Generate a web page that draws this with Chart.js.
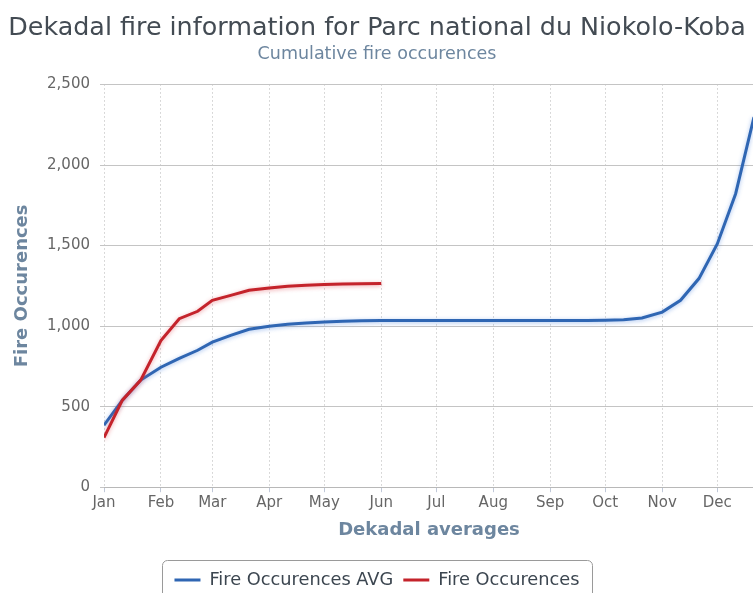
<!DOCTYPE html>
<html>
<head>
<meta charset="utf-8">
<title>Dekadal fire information for Parc national du Niokolo-Koba</title>
<script src="https://cdn.jsdelivr.net/npm/chart.js@4.4.1/dist/chart.umd.min.js"></script>
<style>
    html, body { margin: 0; padding: 0; background: #ffffff; overflow: hidden; }
    #wrap { position: relative; width: 758px; height: 610px; }
</style>
</head>
<body>
<div id="wrap"><canvas id="fireChart"></canvas></div>
<script>
// Month labels and the day of year where each month starts
const monthLabels = ['Jan', 'Feb', 'Mar', 'Apr', 'May', 'Jun', 'Jul', 'Aug', 'Sep', 'Oct', 'Nov', 'Dec'];
const monthStartDays = [0, 31, 59, 90, 120, 151, 181, 212, 243, 273, 304, 334];

// Dekads (1st, 11th, 21st of each month) as day of year
const dekadDays = [
    0, 10, 20, 31, 41, 51, 59, 69, 79, 90, 100, 110,
    120, 130, 140, 151, 161, 171, 181, 191, 201, 212, 222, 232,
    243, 253, 263, 273, 283, 293, 304, 314, 324, 334, 344, 354
];

// Cumulative fire occurences, average over the years
const fireAvg = [
    385, 540, 665, 745, 800, 850, 900, 943, 980, 999, 1011, 1019,
    1026, 1030, 1033, 1035, 1035, 1035, 1035, 1035, 1035, 1035, 1035, 1035,
    1035, 1035, 1035, 1037, 1040, 1050, 1087, 1160, 1295, 1510, 1822, 2297
];

// Cumulative fire occurences, current season (up to Jun 1)
const fireCurrent = [
    308, 540, 665, 910, 1046, 1092, 1160, 1191, 1222, 1237, 1247, 1253,
    1259, 1261, 1263, 1264
];

const yTicks = [0, 500, 1000, 1500, 2000, 2500];

function toPoints(values) {
    return values.map(function (v, i) { return { x: dekadDays[i], y: v }; });
}

Chart.defaults.font.family = "'DejaVu Sans', Verdana, sans-serif";

// Soft glow under the lines
const lineGlow = {
    id: 'lineGlow',
    beforeDatasetDraw: function (chart, args) {
        const ds = chart.data.datasets[args.index];
        chart.ctx.save();
        chart.ctx.shadowColor = ds.glowColor;
        chart.ctx.shadowBlur = 4;
        chart.ctx.shadowOffsetX = 0;
        chart.ctx.shadowOffsetY = 1;
    },
    afterDatasetDraw: function (chart) {
        chart.ctx.restore();
    }
};

// Rounded frame around the legend items
const legendFrame = {
    id: 'legendFrame',
    afterDraw: function (chart) {
        const legend = chart.legend;
        if (!legend || !legend.legendHitBoxes.length) return;
        const boxes = legend.legendHitBoxes;
        const left = Math.min.apply(null, boxes.map(b => b.left)) - 12;
        const right = Math.max.apply(null, boxes.map(b => b.left + b.width)) + 13;
        const top = legend.top - 1.5;
        const bottom = legend.bottom + 4;
        const ctx = chart.ctx;
        ctx.save();
        ctx.strokeStyle = '#9a9a9a';
        ctx.lineWidth = 1;
        ctx.beginPath();
        ctx.roundRect(Math.round(left) + 0.5, Math.round(top) + 0.5, Math.round(right - left), Math.round(bottom - top), 5);
        ctx.stroke();
        ctx.restore();
    }
};

const ctx = document.getElementById('fireChart').getContext('2d');
const fireChart = new Chart(ctx, {
    type: 'line',
    data: {
        datasets: [
            {
                label: 'Fire Occurences AVG',
                data: toPoints(fireAvg),
                borderColor: '#2f66b3',
                backgroundColor: '#2f66b3',
                glowColor: 'rgba(60, 120, 220, 0.45)',
                borderWidth: 3,
                pointRadius: 0,
                tension: 0,
                order: 1
            },
            {
                label: 'Fire Occurences',
                data: toPoints(fireCurrent),
                borderColor: '#c4232b',
                backgroundColor: '#c4232b',
                glowColor: 'rgba(220, 60, 70, 0.45)',
                borderWidth: 3,
                pointRadius: 0,
                tension: 0,
                order: 0
            }
        ]
    },
    options: {
        responsive: true,
        maintainAspectRatio: false,
        animation: false,
        layout: {
            padding: { left: 0, right: 4, top: 0, bottom: 11 }
        },
        scales: {
            x: {
                type: 'linear',
                min: 0,
                max: 354,
                afterBuildTicks: function (scale) {
                    scale.ticks = monthStartDays.map(v => ({ value: v }));
                },
                afterFit: function (scale) {
                    scale.height = 74;
                },
                ticks: {
                    autoSkip: false,
                    maxRotation: 0,
                    minRotation: 0,
                    padding: 2,
                    color: '#666666',
                    font: { size: 15 },
                    callback: function (value) {
                        return monthLabels[monthStartDays.indexOf(value)];
                    }
                },
                grid: {
                    color: '#b4b4b4',
                    tickColor: '#c0c8d8',
                    tickLength: 5,
                    tickBorderDash: []
                },
                border: {
                    display: true,
                    color: '#b8b8b8',
                    width: 1,
                    dash: [1, 3]
                },
                title: {
                    display: true,
                    text: 'Dekadal averages',
                    color: '#6D869F',
                    font: { size: 18, weight: 'bold' },
                    padding: { top: 0, bottom: 20 }
                }
            },
            y: {
                min: 0,
                max: 2500,
                afterBuildTicks: function (scale) {
                    scale.ticks = yTicks.map(v => ({ value: v }));
                },
                afterFit: function (scale) {
                    scale.width = 104;
                },
                ticks: {
                    padding: 10,
                    color: '#666666',
                    font: { size: 15 },
                    callback: function (value) {
                        return value.toLocaleString('en-US');
                    }
                },
                grid: {
                    color: '#c4c4c4',
                    tickLength: 4
                },
                border: {
                    display: false
                },
                title: {
                    display: true,
                    text: 'Fire Occurences',
                    color: '#6D869F',
                    font: { size: 18, weight: 'bold' },
                    padding: { top: 12, bottom: 0 }
                }
            }
        },
        plugins: {
            title: {
                display: true,
                text: 'Dekadal fire information for Parc national du Niokolo-Koba',
                color: '#434b53',
                font: { size: 25.4, weight: 'normal' },
                padding: { top: 13, bottom: 0 }
            },
            subtitle: {
                display: true,
                text: 'Cumulative fire occurences',
                color: '#6D869F',
                font: { size: 17.5, weight: 'normal' },
                padding: { top: 0, bottom: 20 }
            },
            legend: {
                position: 'bottom',
                labels: {
                    usePointStyle: true,
                    pointStyle: 'line',
                    pointStyleWidth: 26,
                    padding: 10,
                    color: '#3c4650',
                    font: { size: 17.8 },
                    sort: function (a, b) { return a.datasetIndex - b.datasetIndex; }
                }
            },
            tooltip: { enabled: false }
        }
    },
    plugins: [lineGlow, legendFrame]
});
</script>
</body>
</html>
